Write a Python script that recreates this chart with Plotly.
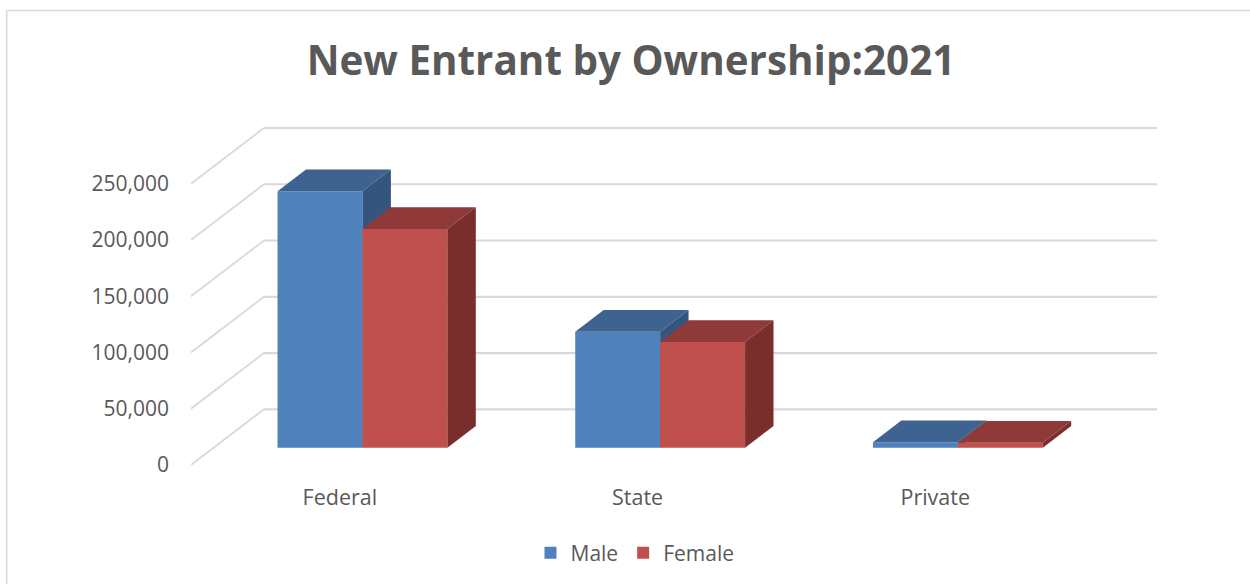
import plotly.graph_objects as go

# --- data ---
categories = ["Federal", "State", "Private"]
male_values = [228000, 103000, 4800]
female_values = [194500, 94000, 4400]
y_ticks = [0, 50000, 100000, 150000, 200000, 250000]
series_names = ["Male", "Female"]
title_text = "New Entrant by Ownership:2021"

# --- oblique-projection style constants (data units) ---
DEPTH_X = 73 / 298      # wall depth in category widths
DEPTH_Y = 49500         # wall depth in value units
BAR_W = 85 / 298
BAR_START = 0.31        # bars start this fraction into the floor depth
BAR_DEPTH = 0.39        # and take up this fraction of it
GRID = "#D9D9D9"
TEXT = "#595959"
FONT = "Open Sans"
COL_M = ("#4F81BD", "#3E6390", "#33557E")
COL_F = ("#C0504D", "#8F3A38", "#7A2E2C")

# plot-area layout in pixels
W, H = 1250, 584
M_L, M_R, M_T, M_B = 190.5, 92.5, 126, 119
PW, PH = W - M_L - M_R, H - M_T - M_B
FRAME_X = (6 - M_L) / PW
FRAME_Y = (H - M_B - 10.5) / PH

fig = go.Figure()


def add_series(name, values, side, cols, xa, ya):
    sx = BAR_START * DEPTH_X
    sy = BAR_START * DEPTH_Y
    dx = BAR_DEPTH * DEPTH_X
    dy = BAR_DEPTH * DEPTH_Y
    xs = [i + sx + side * BAR_W / 2 for i in range(len(values))]
    fig.add_trace(go.Bar(
        x=xs, y=values, base=[sy] * len(values), width=BAR_W, name=name,
        marker=dict(color=cols[0], line=dict(width=0)),
        hoverinfo="y", xaxis=xa, yaxis=ya))
    for x, v in zip(xs, values):
        x0, x1 = x - BAR_W / 2, x + BAR_W / 2
        top = sy + v
        fig.add_trace(go.Scatter(
            x=[x0, x1, x1 + dx, x0 + dx, x0],
            y=[top, top, top + dy, top + dy, top],
            mode="lines", fill="toself", fillcolor=cols[1],
            line=dict(width=0), showlegend=False, hoverinfo="skip",
            xaxis=xa, yaxis=ya))
        fig.add_trace(go.Scatter(
            x=[x1, x1 + dx, x1 + dx, x1, x1],
            y=[sy, sy + dy, top + dy, top, sy],
            mode="lines", fill="toself", fillcolor=cols[2],
            line=dict(width=0), showlegend=False, hoverinfo="skip",
            xaxis=xa, yaxis=ya))


add_series(series_names[0], male_values, -1, COL_M, "x", "y")
add_series(series_names[1], female_values, 1, COL_F, "x2", "y2")

x_lo = -0.5
x_hi = len(categories) - 0.5 + DEPTH_X
y_hi = PH / 56.26 * 50000

shapes = []
for t in y_ticks:
    shapes.append(dict(type="line", xref="x", yref="y", layer="below",
                       x0=x_lo, y0=t, x1=x_lo + DEPTH_X, y1=t + DEPTH_Y,
                       line=dict(color=GRID, width=1.8)))
    shapes.append(dict(type="line", xref="x", yref="y", layer="below",
                       x0=x_lo + DEPTH_X, y0=t + DEPTH_Y, x1=x_hi, y1=t + DEPTH_Y,
                       line=dict(color=GRID, width=2.2)))
# outer chart frame
shapes.append(dict(type="line", xref="paper", yref="paper", layer="below",
                   x0=FRAME_X, x1=1.2, y0=FRAME_Y, y1=FRAME_Y,
                   line=dict(color=GRID, width=1.6)))
shapes.append(dict(type="line", xref="paper", yref="paper", layer="below",
                   x0=FRAME_X, x1=FRAME_X, y0=-0.4, y1=FRAME_Y,
                   line=dict(color=GRID, width=1.6)))

fig.update_layout(
    width=W, height=H, autosize=False,
    margin=dict(l=M_L, r=M_R, t=M_T, b=M_B, pad=0),
    paper_bgcolor="white", plot_bgcolor="rgba(0,0,0,0)",
    barmode="overlay", shapes=shapes,
    font=dict(family=FONT, color=TEXT, size=21),
    title=dict(text=title_text, x=631 / W, xanchor="center", y=1 - 61 / H, yanchor="middle",
               font=dict(family=FONT, size=40.4, color=TEXT, weight="bold")),
    legend=dict(orientation="h", xref="container", yref="container",
                x=635 / W, xanchor="center", y=1 - 553 / H, yanchor="middle",
                font=dict(family=FONT, size=21, color=TEXT), bgcolor="rgba(0,0,0,0)"),
    xaxis=dict(range=[x_lo, x_hi], tickmode="array", tickvals=list(range(len(categories))),
               ticktext=categories, showgrid=False, zeroline=False, showline=False, ticks="",
               ticklabelstandoff=17, tickfont=dict(size=21.5, color=TEXT, family=FONT)),
    yaxis=dict(range=[0, y_hi], tickmode="array", tickvals=y_ticks,
               ticktext=[f"{t:,}" for t in y_ticks], showgrid=False, zeroline=False,
               showline=False, ticks="", ticklabelstandoff=21,
               tickfont=dict(size=21, color=TEXT, family=FONT)),
    xaxis2=dict(range=[x_lo, x_hi], overlaying="x", visible=False),
    yaxis2=dict(range=[0, y_hi], overlaying="y", visible=False),
)

fig.write_html("out.html", config={"displayModeBar": False},
               post_script="document.body.style.margin='0';document.body.style.overflow='hidden';")
